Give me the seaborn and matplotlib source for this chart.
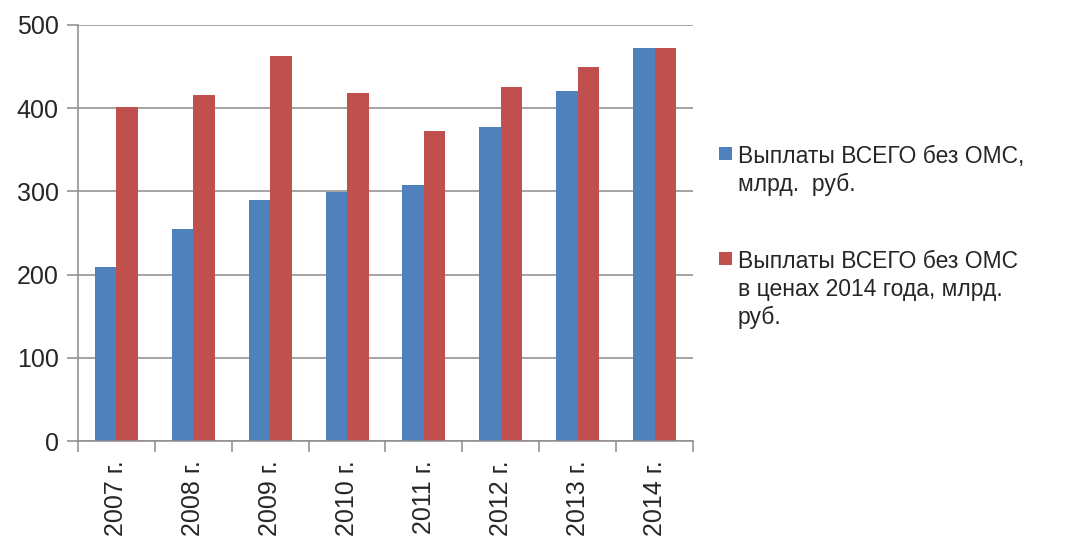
import seaborn as sns
import pandas as pd
import matplotlib.pyplot as plt
from matplotlib.patches import Rectangle
from matplotlib.ticker import FixedLocator, MultipleLocator

years = ['2007 г.', '2008 г.', '2009 г.', '2010 г.', '2011 г.', '2012 г.', '2013 г.', '2014 г.']
nominal = [209, 255, 290, 299, 308, 378, 421, 472]
real_2014 = [401, 416, 463, 418, 373, 425, 449, 472]
series_names = ['Выплаты ВСЕГО без ОМС,\nмлрд.  руб.',
                'Выплаты ВСЕГО без ОМС\nв ценах 2014 года, млрд.\nруб.']
colors = ['#4F81BD', '#C0504D']

W, H = 1075, 541


def to_long(values, name):
    return pd.DataFrame({'year': years, 'value': values, 'series': name})


df = pd.concat([to_long(nominal, series_names[0]), to_long(real_2014, series_names[1])],
               ignore_index=True)

sns.set_style('white')
plt.rcParams['font.family'] = ['Liberation Sans', 'DejaVu Sans']

fig = plt.figure(figsize=(W / 100, H / 100), dpi=100)
ax = fig.add_axes([0.0726, 0.1848, 0.572, 0.769])

sns.barplot(data=df, x='year', y='value', hue='series', palette=colors,
            width=0.56, gap=0, linewidth=0, saturation=1, legend=False, ax=ax)

ax.set_xlim(-0.5, len(years) - 0.5)
ax.set_ylim(0, 500)
ax.yaxis.set_major_locator(MultipleLocator(100))
ax.set_xlabel('')
ax.set_ylabel('')

# grid + axes in Excel style
ax.set_axisbelow(True)
ax.yaxis.grid(True, color='#8c8c8c', linewidth=1.1)
ax.xaxis.grid(False)
for side in ['top', 'right']:
    ax.spines[side].set_visible(False)
for side in ['left', 'bottom']:
    ax.spines[side].set_color('#8c8c8c')
    ax.spines[side].set_linewidth(1.1)

ax.tick_params(axis='y', which='major', length=8, width=1.1, color='#8c8c8c',
               labelsize=18, pad=6, left=True)
ax.tick_params(axis='x', which='major', length=0, labelsize=18, pad=14,
               labelrotation=90)
ax.xaxis.set_minor_locator(FixedLocator([i - 0.5 for i in range(len(years) + 1)]))
ax.tick_params(axis='x', which='minor', length=8, width=1.1, color='#8c8c8c', bottom=True)
for lbl in ax.get_xticklabels():
    lbl.set_va('top')

# legend drawn by hand so the marker sits on the first line of each label
legend_baselines = [162, 267]  # first-line baseline, px from top
for name, color, base in zip(series_names, colors, legend_baselines):
    fig.patches.append(Rectangle((719 / W, 1 - (base - 2) / H), 13 / W, 13 / H,
                                 transform=fig.transFigure, facecolor=color,
                                 edgecolor='none'))
    fig.text(738 / W, 1 - (base - 17) / H, name, fontsize=16.5, va='top', ha='left',
             linespacing=1.27)

fig.savefig('out.png', dpi=100)
